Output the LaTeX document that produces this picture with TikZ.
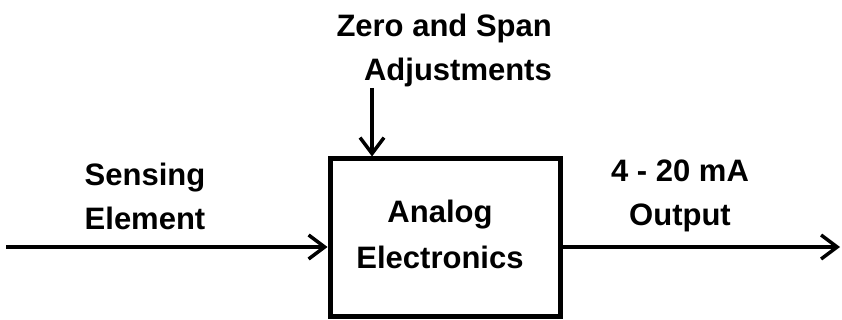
\documentclass[tikz,border=0pt]{standalone}
\usepackage{fontspec}
\setmainfont{Liberation Sans}
\usetikzlibrary{arrows.meta}

\begin{document}
\begin{tikzpicture}[x=1pt,y=-1pt,>={Straight Barb[length=16pt,width=24pt,line width=3.5pt]},
	lbl/.style={font=\fontsize{31}{40}\selectfont\bfseries,inner sep=0pt},
	flow/.style={line width=4.5pt,->}]

	\useasboundingbox (0,0) rectangle (842,320);

	% Draw the electronics block
	\node[draw,line width=5pt,minimum width=230pt,minimum height=157pt,inner sep=0pt] (elec) at (445,237.5) {};
	\node[lbl,align=center] (elecText) at (440,234) {Analog\\[6pt]Electronics};

	% Draw the signal coming in from the sensor
	\coordinate (sensor) at (6,247);
	\draw[flow] (sensor) -- (sensor -| elec.west);
	\node[lbl,align=center] (sensorText) at (145,196) {Sensing\\[4pt]Element};

	% Draw the current loop output
	\coordinate (loop) at (840,247);
	\draw[flow] (sensor -| elec.east) -- (loop);
	\node[lbl,align=center] (loopText) at (680,196) {4 - 20 mA\\[4pt]Output};

	% Draw the zero and span input at the top
	\coordinate (adjust) at (372,88);
	\draw[flow] (adjust) -- (adjust |- elec.north);
	\node[lbl,align=right,anchor=north east] (adjustText) at (552,14) {Zero and Span\\[4pt]Adjustments};

\end{tikzpicture}
\end{document}
